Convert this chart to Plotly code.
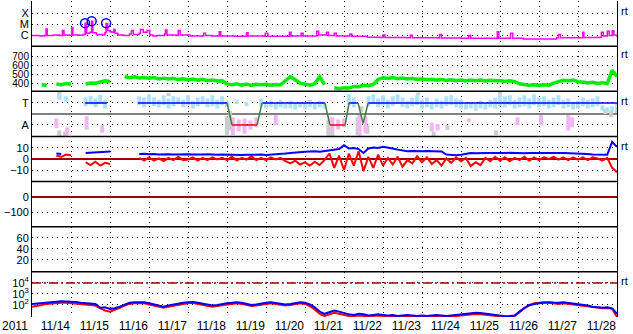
import plotly.graph_objects as go
from plotly.subplots import make_subplots

YEAR = "2011"
day_labels = ["11/14", "11/15", "11/16", "11/17", "11/18", "11/19", "11/20", "11/21",
              "11/22", "11/23", "11/24", "11/25", "11/26", "11/27", "11/28"]
# time axis: days since 2011-11-14 00:00 UT, 3-hourly samples
t3 = [i / 8 for i in range(121)]

# ---- panel 1: X-ray flux (log10 W/m^2) ----
xray_t = [0.00, 0.20, 0.33, 0.36, 0.39, 0.55, 0.70, 0.78, 0.82, 0.95,
          1.02, 1.05, 1.20, 1.30, 1.36, 1.40, 1.48, 1.53, 1.56, 1.65,
          1.80, 1.87, 1.90, 1.94, 2.00, 2.05, 2.10, 2.13, 2.20, 2.35,
          2.50, 2.55, 2.60, 2.75, 2.78, 2.85, 2.95, 3.02, 3.10, 3.20,
          3.40, 3.42, 3.46, 3.70, 3.75, 3.80, 4.05, 4.40, 4.45, 4.60,
          4.80, 4.84, 5.20, 5.50, 5.54, 5.95, 5.98, 6.05, 6.60, 6.64,
          6.90, 6.95, 7.30, 7.35, 7.55, 7.60, 7.75, 7.80, 8.15, 8.20,
          8.60, 8.90, 9.00, 9.05, 9.60, 9.70, 9.75, 10.40, 10.45, 10.50,
          11.00, 11.20, 11.25, 11.90, 11.93, 11.97, 12.20, 12.27, 12.33, 12.60,
          13.30, 13.45, 13.50, 13.55, 14.00, 14.12, 14.15, 14.55, 14.60, 14.65,
          14.75, 14.80, 14.88, 14.92, 15.00]
xray_log = [-6.05, -6.08, -6.02, -5.45, -6.05, -6.00, -6.05, -5.60, -6.00, -6.02,
            -5.35, -6.00, -6.02, -5.95, -4.93, -5.85, -5.75, -4.76, -5.80, -5.95,
            -6.00, -5.80, -4.95, -5.60, -5.70, -5.75, -5.50, -5.85, -6.00, -6.05,
            -5.90, -5.60, -5.95, -5.85, -5.50, -5.75, -5.60, -6.00, -6.08, -6.05,
            -5.90, -5.55, -6.00, -6.05, -5.60, -6.00, -6.10, -5.85, -6.05, -6.10,
            -5.70, -6.10, -6.12, -5.80, -6.10, -6.12, -5.85, -6.12, -5.75, -6.08,
            -5.85, -6.10, -5.65, -6.00, -5.75, -6.05, -5.85, -6.10, -5.90, -6.12,
            -6.20, -6.22, -6.00, -6.22, -6.25, -6.02, -6.25, -6.28, -5.95, -6.28,
            -6.30, -6.05, -6.30, -6.32, -5.70, -6.30, -6.30, -5.85, -6.30, -6.36,
            -6.36, -6.25, -5.95, -6.25, -6.25, -5.75, -6.22, -6.20, -5.75, -6.10,
            -5.65, -6.05, -5.62, -6.00, -6.15]
flare_t = [1.36, 1.53, 1.90]
flare_log = [-4.92, -4.74, -4.92]
xray_ticks = [-6, -5, -4]
xray_labels = ["C", "M", "X"]

# ---- panel 2: solar wind speed (km/s) ----
speed = [None, None, 380, 374, None, 388, 382, 394,
         386, None, None, 390, 400, 398, 414, 424,
         416, None, None, 472, 460, 468, 456, 462,
         452, 460, 446, 454, 444, 452, 438, 446,
         436, 444, 430, 440, 426, 432, 422, 426,
         390, 382, 392, 376, 388, 374, 386, 380,
         386, 376, 384, 380, 425, 470, 436, 398,
         388, 376, 392, 470, 382, None, 348, 336,
         348, 344, 362, 358, 374, 370, 384, 440,
         458, 450, 460, 448, 456, 444, 452, 440,
         446, 436, 442, 430, 440, 428, 436, 426,
         432, 424, 434, 426, 432, 422, 430, 424,
         428, 418, 426, 416, 392, 382, 374, 380,
         372, 380, 376, 398, 412, 430, 424, 434,
         414, 412, 400, 408, 396, 404, 394, 540,
         470]
speed_ticks = [400, 500, 600, 700]

# ---- panel 3: IMF sector (T = +1, A = -1) and angle scatter ----
sector_t = [1.36, 1.92, None, 2.72, 5.00, 5.13, 5.77, 5.90, 7.51, 7.64, 8.03, 8.13,
            8.36, 8.49, 8.62, 15.0]
sector_v = [1, 1, None, 1, 1, -1, -1, 1, 1, -1, -1, 1, 1, -0.85, 1, 1]
lb_t = [0.70, 0.875, 1.375, 1.5, 1.625, 1.75, 1.875,
        2.75, 2.875, 3.0, 3.125, 3.25, 3.375, 3.5, 3.625, 3.75, 3.875, 4.0, 4.125, 4.25,
        4.375, 4.5, 4.625, 4.75, 4.875, 5.0, 5.25, 5.5,
        5.875, 6.0, 6.125, 6.25, 6.375, 6.5, 6.625, 6.75, 6.875, 7.0, 7.125, 7.25, 7.375, 7.5,
        8.125, 8.25, 8.625, 8.75, 8.875, 9.0, 9.125, 9.25, 9.375, 9.5, 9.625, 9.75, 9.875,
        10.0, 10.125, 10.25, 10.375, 10.5, 10.625, 10.75, 10.875, 11.0, 11.125, 11.25,
        11.375, 11.5, 11.625, 11.75, 11.875, 12.0, 12.125, 12.25, 12.375, 12.5, 12.625,
        12.75, 12.875, 13.0, 13.125, 13.25, 13.375, 13.5, 13.625, 13.75, 13.875, 14.0,
        14.125, 14.25, 14.375, 14.5, 14.625, 14.75, 14.875, 15.0]
lb_lo = [1.3, 1.1, 0.7, 0.85, 0.6, 0.9, 0.5,
         0.8, 0.6, 0.9, 0.7, 0.6, 0.8, 0.5, 0.7, 0.9, 0.6, 0.8, 0.5, 0.7,
         0.9, 0.6, 0.7, 0.5, 0.8, 0.6, 0.9, 0.7,
         0.7, 0.5, 0.6, 0.4, 0.6, 0.5, 0.5, 0.4, 0.6, 0.5, 0.6, 0.4, 0.6, 0.5,
         0.8, 0.6, 0.7, 0.9, 0.6, 0.8, 0.5, 0.7, 0.9, 0.6, 0.5, 0.7, 0.8,
         0.5, 0.6, 0.4, 0.6, 0.5, 0.7, 0.8, 0.6, 0.5, 0.4, 0.5,
         0.3, 0.5, 0.4, 0.6, 0.5, 0.7, 0.6, 0.8, 0.5, 0.6, 0.7,
         0.5, 0.8, 0.6, 0.7, 0.5, 0.6, 0.8, 0.5, 0.6, 0.4, 0.5,
         0.7, 0.5, 0.6, 0.7, 0.3, 0.1, 0.2, 0.3]
lb_hi = [1.85, 1.6, 1.5, 1.65, 1.4, 1.75, 1.3,
         1.6, 1.5, 1.8, 1.5, 1.3, 1.7, 1.4, 1.6, 1.5, 1.3, 1.7, 1.2, 1.5,
         1.6, 1.4, 1.7, 1.3, 1.6, 1.2, 1.3, 1.1,
         1.4, 1.1, 1.2, 1.0, 1.3, 0.9, 1.2, 1.0, 1.1, 1.0, 1.3, 0.9, 1.2, 1.0,
         1.8, 1.5, 1.6, 1.8, 1.4, 1.7, 1.3, 1.6, 1.8, 1.5, 1.2, 1.5, 1.7,
         1.3, 1.5, 1.1, 1.4, 1.2, 1.6, 1.7, 1.4, 1.3, 1.0, 1.1,
         0.9, 1.2, 1.0, 1.3, 1.5, 1.8, 1.6, 1.7, 1.3, 1.5, 1.7,
         1.4, 1.8, 1.5, 1.6, 1.3, 1.5, 1.7, 1.3, 1.4, 1.1, 1.2,
         1.5, 1.3, 1.4, 1.6, 0.8, 0.6, 0.7, 0.9]
pk_t = [0.625, 0.9, 1.4, 1.8, 5.15, 5.3, 5.45, 5.6, 5.75, 6.25, 7.7, 7.85, 8.0, 8.4, 8.55,
        10.25, 10.4, 10.65, 11.2, 12.45, 13.05, 13.75, 13.85]
pk_lo = [-1.3, -1.9, -1.4, -1.7, -1.9, -1.6, -1.8, -1.4, -1.2, -1.0, -1.6, -1.4, -1.2, -2.0, -1.7,
         -1.6, -1.5, -1.45, -0.7, -1.0, -1.0, -1.5, -1.2]
pk_hi = [-0.4, -1.2, -0.2, -1.0, -0.3, -0.5, -0.4, -0.6, -0.3, -0.1, -0.3, -0.5, -0.4, -0.1, -0.2,
         -0.8, -0.9, -1.0, -0.4, -0.3, -0.1, -0.1, -0.3]
gr_t = [0.7, 0.7, 0.85, 3.5, 5.0, 5.08, 7.6, 7.7, 8.35, 8.45, 8.6, 9.9, 10.3, 11.9, 12.0,
        14.7, 14.85, 15.0]
gr_lo = [1.4, -2.0, -2.0, 1.6, -1.9, -1.5, -2.0, -2.0, -1.9, 0.2, -1.8, 1.7, -2.0, -1.9, 1.8,
         0.0, -0.3, 0.1]
gr_hi = [2.0, -1.5, -1.6, 1.9, -0.2, 0.3, -0.5, -1.4, -0.3, 0.7, -1.0, 1.95, -1.6, -1.5, 2.0,
         0.5, 0.3, 0.4]

# ---- panel 4: IMF Bt (blue) and Bz (red), nT ----
bt = [None, None, None, None, None, 5.0, 4.6, None,
      None, None, None, 5.5, 5.8, 6.2, 6.0, 6.5,
      6.8, None, None, None, None, None, 4.5, 4.8,
      4.3, 4.6, 4.2, 4.5, 4.4, 4.0, 4.2, 4.5,
      4.3, 4.0, 3.8, 4.1, 4.3, 4.0, 3.9, 4.2,
      4.0, 3.8, 4.0, 3.6, 3.9, 4.1, 3.8, 4.0,
      3.7, 3.9, 4.2, 4.5, 5.0, 5.5, 6.0, 6.2,
      6.5, 6.8, 7.0, 6.5, 7.2, 7.5, 8.0, 9.0,
      12.5, 9.5, 10.0, 9.0, 5.5, 9.5, 10.5, 10.0,
      11.0, 10.5, 9.5, 8.5, 7.5, 7.0, 7.2, 6.8,
      7.0, 7.3, 7.0, 6.5, 6.8, 4.0, 3.6, 3.5,
      3.8, 4.5, 5.5, 5.3, 5.6, 5.4, 5.5, 5.7,
      5.3, 5.5, 5.6, 5.4, 5.5, 5.2, 5.5, 5.6,
      5.4, 5.3, 5.5, 5.6, 5.5, 5.4, 5.2, 5.5,
      5.3, 5.0, 4.5, 4.0, 3.8, 3.6, 3.8, 15.5,
      11.0]
bz = [None, None, None, None, None, 3.0, 2.0, 4.0,
      3.5, None, None, -3.0, -5.5, -2.5, -6.0, -3.5,
      -4.5, None, None, None, None, None, 1.0, -1.5,
      1.5, -1.5, 0.5, -2.0, 1.0, -1.0, 2.0, -1.0,
      -0.5, 1.5, -1.5, 1.0, -1.0, 1.5, -0.5, 1.0,
      -1.0, 2.0, -1.5, 1.0, -0.5, 2.5, -1.0, 1.0,
      -1.0, 1.5, -0.5, 1.0, -2.0, -4.0, -1.5, -5.0,
      -3.0, -6.0, -2.5, -5.5, -1.0, 5.0, -8.0, 3.0,
      -10.0, 5.0, -6.0, 7.0, -11.0, 2.0, -8.0, 4.0,
      -6.0, 1.0, -5.0, 2.0, -7.0, -1.0, -4.0, 2.5,
      -3.0, 1.5, -4.5, -1.0, -6.0, 0.5, -3.5, 1.5,
      -2.0, 1.0, -6.5, -3.0, -5.5, 1.0, -2.0, 2.0,
      -1.5, 1.5, -2.0, 1.0, -1.0, 2.0, -1.5, 1.5,
      -1.0, 1.5, 0.0, 2.0, -0.5, 1.5, -1.0, 1.5,
      -0.5, 1.5, -1.0, 1.5, 0.5, -1.5, 1.0, -8.0,
      -12.0]
bfield_ticks = [10, 0, -10]
dst_ticks = [0, -100]
kp_ticks = [20, 40, 60]

# ---- panel 7: electron flux (log10) ----
e_blue = [2.09, 2.12, 2.18, 2.20, 2.25, 2.30, 2.35, 2.33,
          2.30, 2.28, 2.20, 2.18, 2.15, 2.10, 1.75, 1.80,
          1.65, 1.70, 1.85, 2.05, 2.20, 2.25, 2.27, 2.25,
          2.15, 2.05, 1.90, 1.85, 1.95, 2.05, 2.15, 2.20,
          2.25, 2.28, 2.20, 2.10, 2.00, 1.95, 2.00, 2.10,
          2.15, 2.20, 2.25, 2.20, 2.10, 2.00, 2.05, 2.15,
          2.20, 2.25, 2.20, 2.15, 2.05, 2.10, 2.20, 2.25,
          2.20, 2.05, 1.80, 1.40, 1.20, 1.35, 1.50, 1.40,
          1.25, 1.15, 1.10, 1.20, 1.15, 1.05, 1.10, 1.15,
          1.10, 1.05, 1.10, 1.00, 1.05, 1.10, 1.05, 1.00,
          1.05, 1.00, 1.05, 1.10, 1.05, 1.00, 1.05, 1.10,
          1.15, 1.20, 1.25, 1.30, 1.28, 1.22, 1.15, 1.05,
          1.00, 0.98, 1.00, 1.05, 1.40, 1.75, 2.00, 2.10,
          2.15, 2.20, 2.25, 2.22, 2.20, 2.25, 2.20, 2.15,
          2.05, 2.00, 1.95, 1.85, 1.80, 1.75, 1.80, 1.70,
          1.20]
e_red = [1.85, 1.90, 2.00, 2.10, 2.15, 2.20, 2.20, 2.20,
         2.15, 2.12, 2.10, 2.05, 2.00, 1.95, 1.70, 1.50,
         1.40, 1.55, 1.75, 1.95, 2.10, 2.15, 2.18, 2.15,
         2.05, 1.95, 1.80, 1.75, 1.85, 1.95, 2.05, 2.10,
         2.15, 2.20, 2.10, 2.00, 1.90, 1.85, 1.90, 2.00,
         2.05, 2.10, 2.15, 2.10, 2.00, 1.90, 1.95, 2.05,
         2.10, 2.15, 2.10, 2.05, 1.95, 2.00, 2.10, 2.15,
         2.10, 1.90, 1.60, 1.20, 1.00, 1.15, 1.30, 1.20,
         1.10, 1.00, 0.98, 1.05, 1.00, 0.97, 1.00, 1.05,
         1.00, 0.97, 1.00, 0.96, 0.98, 1.00, 0.97, 0.95,
         0.97, 0.95, 0.98, 1.00, 0.97, 0.95, 0.98, 1.00,
         1.05, 1.10, 1.15, 1.18, 1.15, 1.10, 1.05, 0.98,
         0.95, 0.93, 0.95, 1.00, 1.35, 1.70, 1.95, 2.15,
         2.20, 2.25, 2.20, 2.15, 2.10, 2.15, 2.10, 2.05,
         1.95, 1.90, 1.85, 1.80, 1.75, 1.70, 1.72, 1.65,
         0.91]
e_threshold = 4
e_ticks = [2, 3, 4]
e_labels = ["10<sup>2</sup>", "10<sup>3</sup>", "10<sup>4</sup>"]

# ------------------------------------------------------------------
FONT = "Liberation Sans, Arial, sans-serif"
DOT = "1px,4px"
fig = make_subplots(rows=7, cols=1, shared_xaxes=True, vertical_spacing=0)

# panel 1
fig.add_trace(go.Scatter(x=xray_t, y=xray_log, mode="lines", line=dict(color="#ff00ff", width=1.5, shape="hv")), 1, 1)
fig.add_trace(go.Scatter(x=flare_t, y=flare_log, mode="markers",
                         marker=dict(symbol="circle-open", size=9, color="#0000ff", line=dict(width=1.5))), 1, 1)
# panel 2
fig.add_trace(go.Scatter(x=t3, y=speed, mode="lines", line=dict(color="#00ee00", width=3.5)), 2, 1)


# panel 3
def bands(ts, lo, hi):
    xs, ys = [], []
    for t, a, b in zip(ts, lo, hi):
        xs += [t, t, None]
        ys += [a, b, None]
    return xs, ys


for (ts, lo, hi, col) in [(gr_t, gr_lo, gr_hi, "#cccccc"), (pk_t, pk_lo, pk_hi, "#f2b6f2"),
                          (lb_t, lb_lo, lb_hi, "#aee3f5")]:
    bx, by = bands(ts, lo, hi)
    fig.add_trace(go.Scatter(x=bx, y=by, mode="lines", line=dict(color=col, width=4)), 3, 1)

segs = {"#0000ff": ([], []), "#ff0000": ([], []), "#3f7f3f": ([], [])}
for a in range(len(sector_t) - 1):
    t0, v0, t1, v1 = sector_t[a], sector_v[a], sector_t[a + 1], sector_v[a + 1]
    if None in (t0, v0, t1, v1):
        continue
    key = "#0000ff" if (v0 == 1 and v1 == 1) else ("#ff0000" if (v0 == -1 and v1 == -1) else "#3f7f3f")
    segs[key][0].extend([t0, t1, None])
    segs[key][1].extend([v0, v1, None])
for col, (sx, sy) in segs.items():
    fig.add_trace(go.Scatter(x=sx, y=sy, mode="lines", line=dict(color=col, width=1.5)), 3, 1)

# panel 4
fig.add_trace(go.Scatter(x=t3, y=bz, mode="lines", line=dict(color="#ff0000", width=2)), 4, 1)
fig.add_trace(go.Scatter(x=t3, y=bt, mode="lines", line=dict(color="#0000ff", width=2)), 4, 1)

# panels 5 and 6 carry no data in this interval (empty traces keep the subplots drawn)
fig.add_trace(go.Scatter(x=[0], y=[None], mode="lines", hoverinfo="skip"), 5, 1)
fig.add_trace(go.Scatter(x=[0], y=[None], mode="lines", hoverinfo="skip"), 6, 1)

# panel 7
fig.add_trace(go.Scatter(x=[0, 15], y=[e_threshold, e_threshold], mode="lines",
                         line=dict(color="#a00000", width=1.5, dash="9px,3px,2px,3px")), 7, 1)
fig.add_trace(go.Scatter(x=t3, y=e_red, mode="lines", line=dict(color="#ff0000", width=2)), 7, 1)
fig.add_trace(go.Scatter(x=t3, y=e_blue, mode="lines", line=dict(color="#0000ff", width=2)), 7, 1)

# axes
yspecs = [
    dict(range=[-7.01, -2.91], tickvals=xray_ticks, ticktext=xray_labels),
    dict(range=[308, 810], tickvals=speed_ticks, tickfont=dict(size=10, color="black", family=FONT)),
    dict(range=[-2.04, 2.06], tickvals=[1, -1], ticktext=["T", "A"], zeroline=True,
         zerolinecolor="#808080", zerolinewidth=1.5),
    dict(range=[-20.5, 20.5], tickvals=bfield_ticks, zeroline=True, zerolinecolor="#a00000", zerolinewidth=1.5),
    dict(range=[-198, 103], tickvals=dst_ticks, zeroline=True, zerolinecolor="#a00000", zerolinewidth=1.5),
    dict(range=[-1.6, 80.5], tickvals=kp_ticks),
    dict(range=[0.91, 5.01], tickvals=e_ticks, ticktext=e_labels),
]
for k, spec in enumerate(yspecs, start=1):
    base = dict(showgrid=True, gridcolor="black", griddash=DOT, gridwidth=1, zeroline=False,
                showline=True, linecolor="black", linewidth=1, mirror=True, ticks="",
                tickfont=dict(size=11, color="black", family=FONT), fixedrange=True, automargin=False)
    base.update(spec)
    fig.update_yaxes(row=k, col=1, **base)

fig.update_xaxes(range=[0, 15], showgrid=False, zeroline=False, showline=False, ticks="",
                 tickmode="array", tickvals=[d + 0.6 for d in range(15)], ticktext=day_labels,
                 tickfont=dict(size=12, color="black", family=FONT), automargin=False,
                 minor=dict(tickmode="array", tickvals=list(range(1, 15)), showgrid=True,
                            gridcolor="black", griddash=DOT, gridwidth=1, ticks=""))
for k in range(1, 7):
    fig.update_xaxes(row=k, col=1, showticklabels=False)

# panel separators
shapes = []
for k in range(1, 7):
    shapes.append(dict(type="line", xref="paper", yref="paper", x0=0, x1=1, y0=k / 7, y1=k / 7,
                       line=dict(color="black", width=1.5), layer="above"))

ann = [dict(text=YEAR, xref="paper", yref="paper", x=-0.029, y=-0.03, xanchor="center", yanchor="middle",
            showarrow=False, font=dict(size=12, family=FONT, color="black"))]
for yr, yv in [("y", -4), ("y2", 700), ("y3", 1), ("y4", 10), ("y7", 4)]:
    ann.append(dict(text="rt", xref="paper", yref=yr, x=1.004, y=yv, xanchor="left", yanchor="middle",
                    yshift=2, showarrow=False, font=dict(size=11, family=FONT, color="black")))

fig.update_layout(width=633, height=334, margin=dict(l=32, r=16, t=1, b=17),
                  paper_bgcolor="white", plot_bgcolor="white", showlegend=False,
                  font=dict(family=FONT, size=12, color="black"),
                  shapes=shapes, annotations=ann)
fig.write_html("out.html")
